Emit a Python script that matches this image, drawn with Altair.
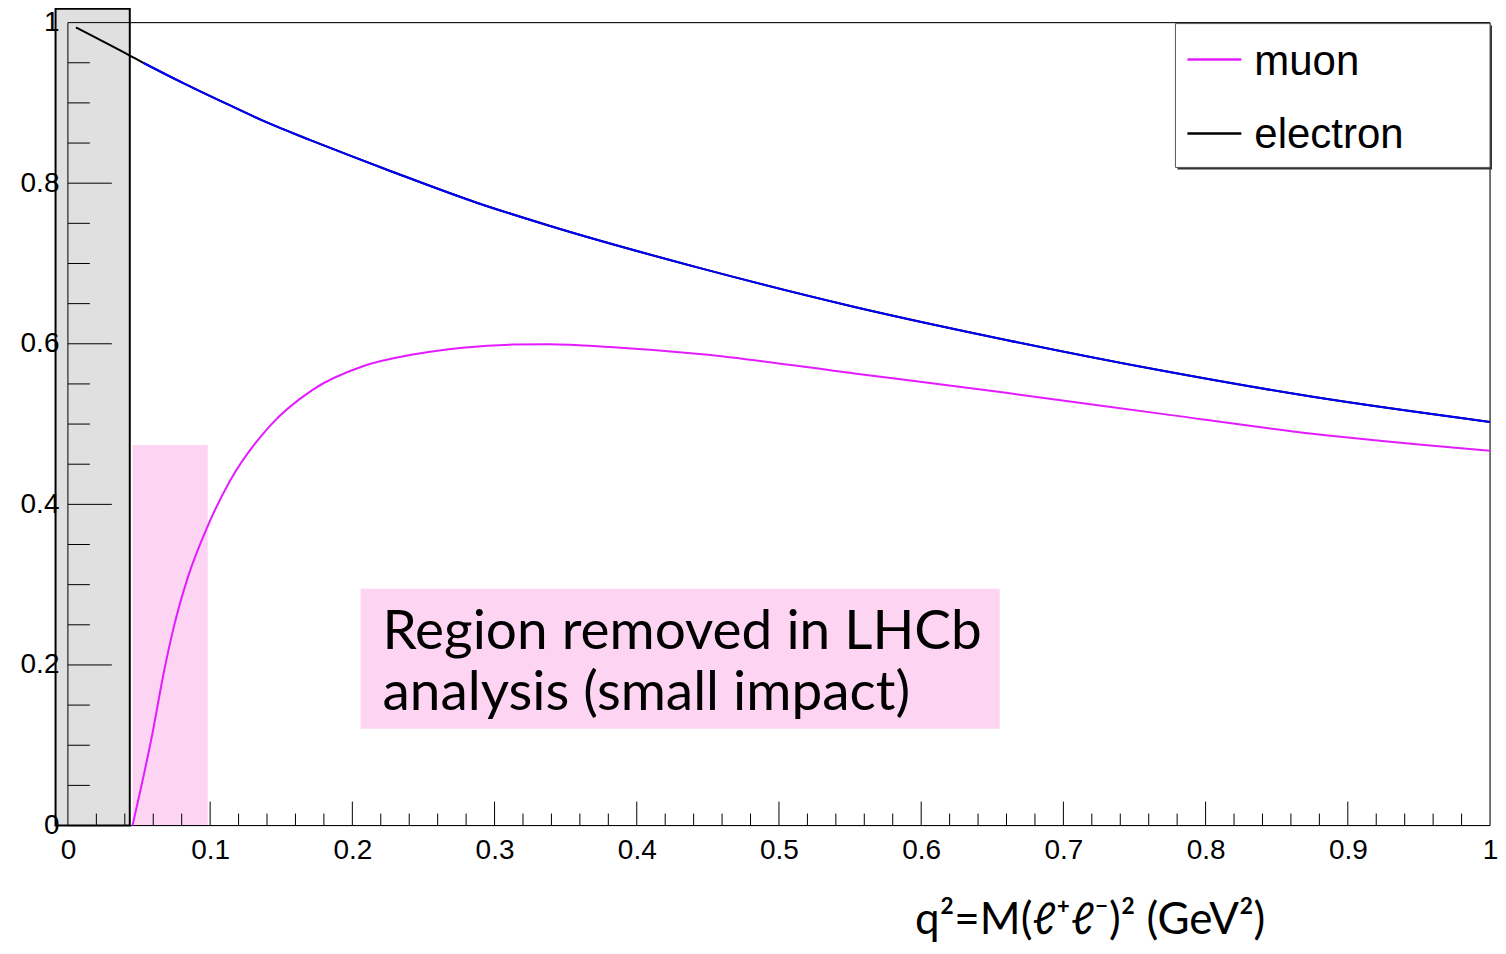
import altair as alt
import pandas as pd

# ---- data ----
electron_x = [0.0056, 0.0435, 0.053, 0.0822, 0.1114, 0.1395, 0.170, 0.198, 0.2285, 0.287,
              0.3385, 0.4459, 0.5532, 0.6606, 0.768, 0.8753, 1.0]
electron_y = [0.994, 0.959, 0.950, 0.9237, 0.899, 0.876, 0.854, 0.8346, 0.814, 0.776,
              0.747, 0.6936, 0.6459, 0.6045, 0.567, 0.534, 0.5027]
blue_start = 0.053

muon_x = [0.0454, 0.0599, 0.0669, 0.074, 0.0845, 0.0983, 0.1138, 0.1419, 0.1723, 0.2074,
          0.2425, 0.2776, 0.3127, 0.3385, 0.381, 0.446, 0.553, 0.661, 0.768, 0.875, 1.0]
muon_y = [0.0, 0.119, 0.186, 0.244, 0.310, 0.373, 0.4288, 0.4975, 0.543, 0.572,
          0.5866, 0.595, 0.599, 0.5995, 0.596, 0.587, 0.563, 0.5386, 0.513, 0.488, 0.4668]

x_labels = [0, 0.1, 0.2, 0.3, 0.4, 0.5, 0.6, 0.7, 0.8, 0.9, 1]
y_labels = [0, 0.2, 0.4, 0.6, 0.8, 1]
x_major_ticks = [0.1, 0.2, 0.3, 0.4, 0.5, 0.6, 0.7, 0.8, 0.9]
x_minor_ticks = [0.02, 0.04, 0.06, 0.08, 0.12, 0.14, 0.16, 0.18, 0.22, 0.24, 0.26, 0.28,
                 0.32, 0.34, 0.36, 0.38, 0.42, 0.44, 0.46, 0.48, 0.52, 0.54, 0.56, 0.58,
                 0.62, 0.64, 0.66, 0.68, 0.72, 0.74, 0.76, 0.78, 0.82, 0.84, 0.86, 0.88,
                 0.92, 0.94, 0.96, 0.98]
y_major_ticks = [0.2, 0.4, 0.6, 0.8]
y_minor_ticks = [0.05, 0.1, 0.15, 0.25, 0.3, 0.35, 0.45, 0.5, 0.55, 0.65, 0.7, 0.75,
                 0.85, 0.9, 0.95]

# shaded regions (in q^2 / y units)
gray_region = {"x0": [-0.0087], "x1": [0.0435], "y0": [0.0], "y1": [1.0174]}
pink_region = {"x0": [0.0454], "x1": [0.0983], "y0": [0.0], "y1": [0.474]}
note_box = {"x0": [0.2058], "x1": [0.6552], "y0": [0.1206], "y1": [0.2948]}
note_lines = ["Region removed in LHCb", "analysis (small impact)"]
legend_labels = ["muon", "electron"]
legend_colors = ["#e31cff", "black"]
x_title = "q²=M(ℓ⁺ℓ⁻)² (GeV²)"

W, H = 1424, 804

xscale = alt.Scale(domain=[0, 1], nice=False, zero=False)
yscale = alt.Scale(domain=[0, 1], nice=False, zero=False)
xaxis = alt.Axis(values=x_labels, format="~g", title=None, domain=False, ticks=False,
                 grid=False, labelFont="Liberation Sans", labelFontSize=28,
                 labelColor="black", labelPadding=11, labelFlush=False,
                 labelOverlap=False, zindex=1)
yaxis = alt.Axis(values=y_labels, format="~g", title=None, domain=False, ticks=False,
                 grid=False, labelFont="Liberation Sans", labelFontSize=28,
                 labelColor="black", labelPadding=9, labelFlush=False,
                 labelOverlap=False, zindex=1)


def X(f):
    return alt.X(f, type="quantitative", scale=xscale, axis=xaxis)


def Y(f):
    return alt.Y(f, type="quantitative", scale=yscale, axis=yaxis)


gray = alt.Chart(pd.DataFrame(gray_region)).mark_rect(
    fill="#e0e0e0", stroke="black", strokeWidth=2
).encode(x=X("x0"), x2="x1", y=Y("y0"), y2="y1")

pink = alt.Chart(pd.DataFrame(pink_region)).mark_rect(
    fill="#fdd4f1", strokeWidth=0
).encode(x=X("x0"), x2="x1", y=Y("y0"), y2="y1")

note = alt.Chart(pd.DataFrame(note_box)).mark_rect(
    fill="#fdd4f1", strokeWidth=0
).encode(x=X("x0"), x2="x1", y=Y("y0"), y2="y1")

frame = alt.Chart(pd.DataFrame({"x0": [0.0], "x1": [1.0], "y0": [0.0], "y1": [1.0]})).mark_rect(
    fillOpacity=0, stroke="black", strokeWidth=1
).encode(x=X("x0"), x2="x1", y=Y("y0"), y2="y1")

xmaj = alt.Chart(pd.DataFrame({"v": x_major_ticks})).mark_rule(color="black", strokeWidth=1).encode(
    x=X("v"), y=alt.value(H), y2=alt.value(H - 24))
xmin = alt.Chart(pd.DataFrame({"v": x_minor_ticks})).mark_rule(color="black", strokeWidth=1).encode(
    x=X("v"), y=alt.value(H), y2=alt.value(H - 12))
ymaj = alt.Chart(pd.DataFrame({"v": y_major_ticks})).mark_rule(color="black", strokeWidth=1).encode(
    y=Y("v"), x=alt.value(0), x2=alt.value(44))
ymin = alt.Chart(pd.DataFrame({"v": y_minor_ticks})).mark_rule(color="black", strokeWidth=1).encode(
    y=Y("v"), x=alt.value(0), x2=alt.value(22))

edf = pd.DataFrame({"x": electron_x, "y": electron_y})
electron = alt.Chart(edf).mark_line(color="black", strokeWidth=2, interpolate="monotone").encode(
    x=X("x"), y=Y("y"))
blue = alt.Chart(edf[edf["x"] >= blue_start]).mark_line(
    color="#0000ff", strokeWidth=2, interpolate="monotone").encode(x=X("x"), y=Y("y"))

muon = alt.Chart(pd.DataFrame({"x": muon_x, "y": muon_y})).mark_line(
    color=legend_colors[0], strokeWidth=2, interpolate="monotone").encode(x=X("x"), y=Y("y"))

note_text = alt.Chart(pd.DataFrame({"t": [0]})).mark_text(
    font="Lato", fontSize=55, align="left", baseline="alphabetic", lineHeight=61, color="black"
).encode(x=alt.value(315), y=alt.value(627), text=alt.value(note_lines))

leg_shadow = alt.Chart(pd.DataFrame({"t": [0]})).mark_rect(fill="#333333").encode(
    x=alt.value(1111), x2=alt.value(1426), y=alt.value(3), y2=alt.value(147))
leg_box = alt.Chart(pd.DataFrame({"t": [0]})).mark_rect(
    fill="white", stroke="#555555", strokeWidth=1).encode(
    x=alt.value(1109), x2=alt.value(1424), y=alt.value(1), y2=alt.value(145))
leg_layers = []
for i, (lab, col) in enumerate(zip(legend_labels, legend_colors)):
    yc = 37 + 74 * i
    leg_layers.append(
        alt.Chart(pd.DataFrame({"t": [lab]})).mark_rule(color=col, strokeWidth=2.5).encode(
            x=alt.value(1121), x2=alt.value(1175), y=alt.value(yc)))
    leg_layers.append(
        alt.Chart(pd.DataFrame({"t": [lab]})).mark_text(
            font="Liberation Sans", fontSize=42, align="left", baseline="alphabetic",
            color="black").encode(x=alt.value(1188), y=alt.value(yc + 15), text="t:N"))

title = alt.Chart(pd.DataFrame({"t": [x_title]})).mark_text(
    font="Lato", fontSize=44, align="right", baseline="alphabetic", color="black"
).encode(x=alt.value(1199), y=alt.value(913), text="t:N")

chart = alt.layer(
    gray, pink, note, frame, xmaj, xmin, ymaj, ymin, electron, blue, muon, note_text,
    leg_shadow, leg_box, *leg_layers, title
).properties(
    width=W, height=H,
    autosize=alt.AutoSizeParams(type="none"),
    padding={"left": 60, "top": 14, "right": 8, "bottom": 120},
).configure_view(stroke=None).configure(background="white")

chart.save("out.html", embed_options={"renderer": "svg", "actions": False})
